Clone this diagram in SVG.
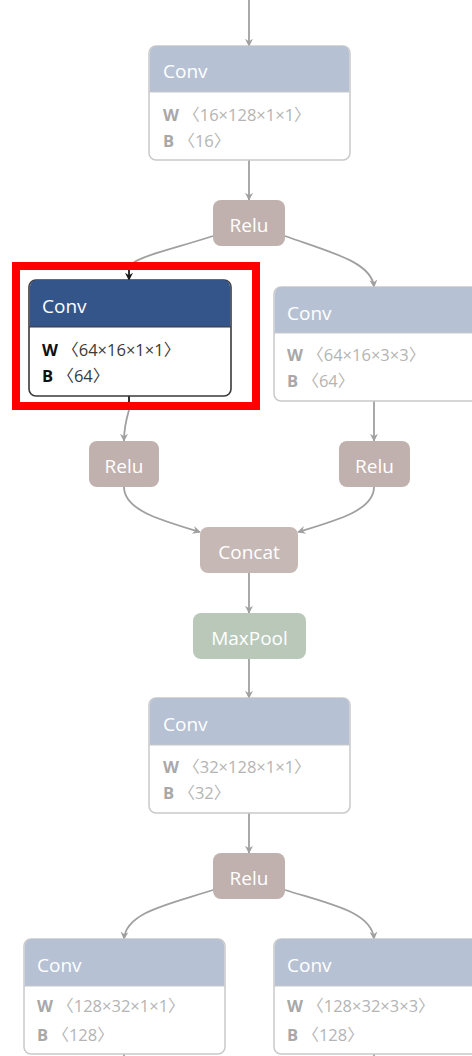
<svg xmlns="http://www.w3.org/2000/svg" width="472" height="1056" viewBox="0 0 472 1056">
<style>
.bg{fill:#ffffff}
.body{fill:#ffffff;stroke:#c9c9c9;stroke-width:1.5}
.hdr{fill:#b6c2d4}
.title{font-family:"Open Sans","Noto Sans",sans-serif;font-size:19px;fill:#ffffff}
.p{font-family:"Open Sans","Noto Sans","Noto Sans CJK SC",sans-serif;font-size:16.5px;fill:#b4b4b4}
.p tspan.k{font-weight:bold;fill:#a8a8a8}
.op{font-family:"Open Sans","Noto Sans",sans-serif;font-size:19px;fill:#ffffff;text-anchor:middle}
.relu{fill:#c0b1ae}
.concat{fill:#c6b9b5}
.pool{fill:#b9c8b8}
.e{fill:none;stroke:#a0a0a0;stroke-width:1.8}
.eb{fill:none;stroke:#1a1a1a;stroke-width:1.8}
.hbody{fill:#ffffff;stroke:#3a3a3a;stroke-width:1.6}
.hhdr{fill:#34558a}
.hp{font-family:"Open Sans","Noto Sans","Noto Sans CJK SC",sans-serif;font-size:16.5px;fill:#3a3a3a}
.hp tspan.k{font-weight:bold;fill:#111111}
</style>
<defs>
<marker id="ag" viewBox="0 0 10 10" refX="9" refY="5" markerWidth="8" markerHeight="8" orient="auto" markerUnits="userSpaceOnUse"><path d="M0,0 L10,5 L0,10 L3,5 z" fill="#a0a0a0"/></marker>
<marker id="ab" viewBox="0 0 10 10" refX="9" refY="5" markerWidth="8" markerHeight="8" orient="auto" markerUnits="userSpaceOnUse"><path d="M0,0 L10,5 L0,10 L3,5 z" fill="#1a1a1a"/></marker>
</defs>
<rect class="bg" x="0" y="0" width="472" height="1056"/>

<g id="connectors">
<path class="e" d="M249,0 L249,46" marker-end="url(#ag)"/>
<path class="e" d="M249,160 L249,200" marker-end="url(#ag)"/>
<path class="e" d="M213,236 C170,250 130,258 129,268"/>
<path class="eb" d="M129,266 L129,280" marker-end="url(#ab)"/>
<path class="e" d="M285,236 C330,252 372,262 374,287" marker-end="url(#ag)"/>
<path class="eb" d="M129,396 L129,410"/>
<path class="e" d="M129,410 C126,420 124,428 124,441" marker-end="url(#ag)"/>
<path class="e" d="M374,401 L374,441" marker-end="url(#ag)"/>
<path class="e" d="M124,487 C124,510 160,520 200,532" marker-end="url(#ag)"/>
<path class="e" d="M374,487 C374,510 338,520 298,532" marker-end="url(#ag)"/>
<path class="e" d="M249,573 L249,613" marker-end="url(#ag)"/>
<path class="e" d="M249,659 L249,698" marker-end="url(#ag)"/>
<path class="e" d="M249,813 L249,853" marker-end="url(#ag)"/>
<path class="e" d="M213,890 C170,904 126,912 124,939" marker-end="url(#ag)"/>
<path class="e" d="M285,890 C330,904 372,912 374,939" marker-end="url(#ag)"/>
<path class="e" d="M124,1054 L124,1056"/>
<path class="e" d="M374,1054 L374,1056"/>
</g>

<g id="conv1">
<rect class="body" x="149" y="46" width="201" height="114" rx="7"/>
<path class="hdr" d="M149.75,92 V53 a7,7 0 0 1 7,-7 H342.25 a7,7 0 0 1 7,7 V92 z"/>
<line x1="149" y1="92" x2="350" y2="92" stroke="#c9c9c9" stroke-width="1"/>
<text class="title" x="163" y="78">Conv</text>
<text class="p" x="163" y="121"><tspan class="k">W</tspan> 〈16×128×1×1〉</text>
<text class="p" x="163" y="147"><tspan class="k">B</tspan> 〈16〉</text>
</g>

<g id="relu1">
<rect class="relu" x="213" y="200" width="72" height="46" rx="8"/>
<text class="op" x="249" y="232">Relu</text>
</g>

<g id="conv2">
<rect class="hbody" x="29" y="280" width="202" height="116" rx="7"/>
<path class="hhdr" d="M29.8,327 V287 a7,7 0 0 1 7,-7 H223.2 a7,7 0 0 1 7,7 V327 z"/>
<line x1="29" y1="327" x2="231" y2="327" stroke="#3a3a3a" stroke-width="1"/>
<text class="title" x="42" y="313">Conv</text>
<text class="hp" x="42" y="356"><tspan class="k">W</tspan> 〈64×16×1×1〉</text>
<text class="hp" x="42" y="382"><tspan class="k">B</tspan> 〈64〉</text>
</g>
<rect id="highlight" x="16" y="266" width="240" height="140" fill="none" stroke="#ff0000" stroke-width="8"/>

<g id="conv3">
<rect class="body" x="274" y="287" width="210" height="114" rx="7"/>
<path class="hdr" d="M274.75,333 V294 a7,7 0 0 1 7,-7 H484 V333 z"/>
<line x1="274" y1="333" x2="472" y2="333" stroke="#c9c9c9" stroke-width="1"/>
<text class="title" x="287" y="320">Conv</text>
<text class="p" x="287" y="361"><tspan class="k">W</tspan> 〈64×16×3×3〉</text>
<text class="p" x="287" y="387"><tspan class="k">B</tspan> 〈64〉</text>
</g>

<g id="relu2">
<rect class="relu" x="89" y="441" width="70" height="46" rx="8"/>
<text class="op" x="124" y="473">Relu</text>
</g>

<g id="relu3">
<rect class="relu" x="339" y="441" width="71" height="46" rx="8"/>
<text class="op" x="374.5" y="473">Relu</text>
</g>

<g id="concat">
<rect class="concat" x="200" y="527" width="98" height="46" rx="8"/>
<text class="op" x="249" y="559">Concat</text>
</g>

<g id="maxpool">
<rect class="pool" x="193" y="613" width="113" height="46" rx="8"/>
<text class="op" x="249.5" y="645">MaxPool</text>
</g>

<g id="conv4">
<rect class="body" x="149" y="698" width="201" height="115" rx="7"/>
<path class="hdr" d="M149.75,745 V705 a7,7 0 0 1 7,-7 H342.25 a7,7 0 0 1 7,7 V745 z"/>
<line x1="149" y1="745" x2="350" y2="745" stroke="#c9c9c9" stroke-width="1"/>
<text class="title" x="163" y="731">Conv</text>
<text class="p" x="163" y="773"><tspan class="k">W</tspan> 〈32×128×1×1〉</text>
<text class="p" x="163" y="799"><tspan class="k">B</tspan> 〈32〉</text>
</g>

<g id="relu4">
<rect class="relu" x="213" y="853" width="72" height="46" rx="8"/>
<text class="op" x="249" y="885">Relu</text>
</g>

<g id="conv5">
<rect class="body" x="24" y="939" width="201" height="115" rx="7"/>
<path class="hdr" d="M24.75,986 V946 a7,7 0 0 1 7,-7 H217.25 a7,7 0 0 1 7,7 V986 z"/>
<line x1="24" y1="986" x2="225" y2="986" stroke="#c9c9c9" stroke-width="1"/>
<text class="title" x="37" y="972">Conv</text>
<text class="p" x="37" y="1012"><tspan class="k">W</tspan> 〈128×32×1×1〉</text>
<text class="p" x="37" y="1041"><tspan class="k">B</tspan> 〈128〉</text>
</g>

<g id="conv6">
<rect class="body" x="274" y="939" width="210" height="115" rx="7"/>
<path class="hdr" d="M274.75,986 V946 a7,7 0 0 1 7,-7 H484 V986 z"/>
<line x1="274" y1="986" x2="472" y2="986" stroke="#c9c9c9" stroke-width="1"/>
<text class="title" x="287" y="972">Conv</text>
<text class="p" x="287" y="1012"><tspan class="k">W</tspan> 〈128×32×3×3〉</text>
<text class="p" x="287" y="1041"><tspan class="k">B</tspan> 〈128〉</text>
</g>
</svg>
